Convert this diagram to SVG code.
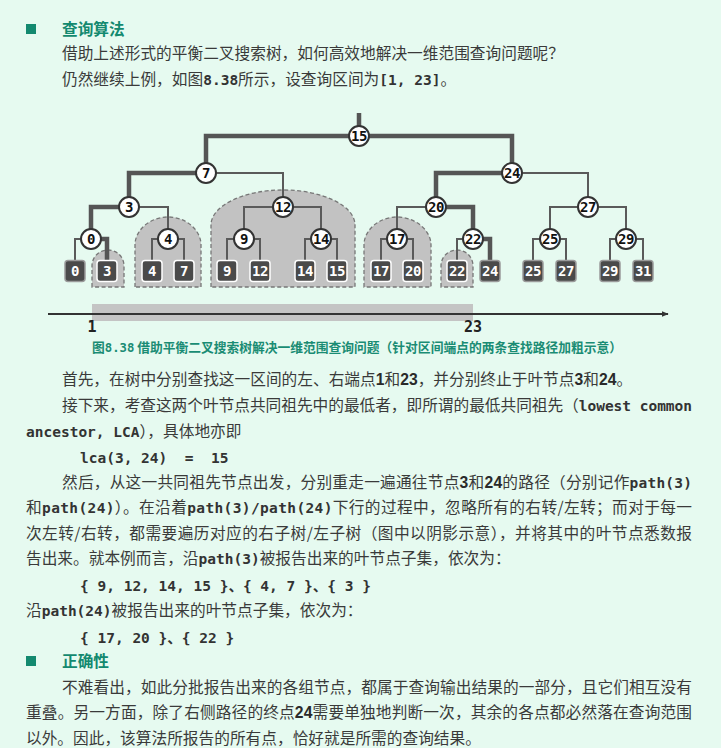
<svg xmlns="http://www.w3.org/2000/svg" width="721" height="748" viewBox="0 0 721 748">
<defs>
<style>
.t{font-family:"Noto Sans CJK SC","Liberation Sans",sans-serif;font-size:15.7px;fill:#3a3a3a}
.h{font-family:"Noto Sans CJK SC",sans-serif;font-size:15.7px;font-weight:bold;fill:#13896f}
.m{font-family:"DejaVu Sans Mono","Noto Sans CJK SC",monospace;font-size:14.5px;font-weight:bold;fill:#333}
.d{font-family:"Liberation Sans","Noto Sans CJK SC",sans-serif;font-weight:bold;fill:#2a2a2a}
.cap{font-family:"Noto Sans CJK SC",sans-serif;font-size:13px;font-weight:bold;fill:#1a8c74}
.cm{font-family:"DejaVu Sans Mono",monospace;font-size:12.5px}
.ek{fill:none;stroke:#555;stroke-width:4.5}
.en{fill:none;stroke:#5a5a5a;stroke-width:2}
.nd circle{fill:#fff;stroke:#333;stroke-width:2}
.nd text{font-family:"DejaVu Sans Mono",monospace;font-size:14px;font-weight:bold;fill:#111;text-anchor:middle;letter-spacing:-0.5px}
.lf rect{fill:#4a4a4a;stroke:#fff;stroke-width:1.5}
.lf.o rect{stroke:#9a9a9a}
.lf text{font-family:"DejaVu Sans Mono",monospace;font-size:14px;font-weight:bold;fill:#fff;text-anchor:middle;letter-spacing:-0.5px}
.sh{fill:#c2c2c2;stroke:#777;stroke-width:1.3;stroke-dasharray:4 2.5}
.ax{font-family:"DejaVu Sans Mono",monospace;font-size:15px;font-weight:bold;fill:#222;text-anchor:middle}
</style>
<marker id="arr" viewBox="0 0 10 8" refX="9" refY="4" markerWidth="7" markerHeight="6" orient="auto" markerUnits="userSpaceOnUse">
<path d="M0,0 L10,4 L0,8 Z" fill="#333"/>
</marker>
</defs>
<rect width="721" height="748" fill="#e6faf0"/>

<!-- header text -->
<rect x="26" y="24" width="10" height="10" fill="#13896f"/>
<text class="h" x="62" y="35">查询算法</text>
<text class="t" x="62" y="59">借助上述形式的平衡二叉搜索树，如何高效地解决一维范围查询问题呢？</text>
<text class="t" x="62" y="85">仍然继续上例，如图<tspan class="m">8.38</tspan>所示，设查询区间为<tspan class="m">[1, 23]</tspan>。</text>

<!-- shaded subtrees -->
<g id="shades">
<path class="sh" d="M92,287 V266 C92,257 99,250 108,250 C117,250 124,257 124,266 V287 Z"/>
<path class="sh" d="M135,287 V245 C135,230 150,217 168,217 C186,217 201,230 201,245 V287 Z"/>
<path class="sh" d="M211,287 V225 C211,206 243,190 283,190 C323,190 355,206 355,225 V287 Z"/>
<path class="sh" d="M364,287 V245 C364,230 379,217 397,217 C415,217 431,230 431,245 V287 Z"/>
<path class="sh" d="M441,287 V266 C441,257 448,250 457,250 C466,250 473,257 473,266 V287 Z"/>
</g>

<!-- connectors -->
<g id="connectors">
<path class="en" d="M206,173 H283 V207"/>
<path class="en" d="M129,207 H168 V239"/>
<path class="en" d="M91,239 H75 V261"/>
<path class="en" d="M152,261 V239 H184 V261"/>
<path class="en" d="M244,239 V207 H321 V239"/>
<path class="en" d="M227,261 V239 H260 V261"/>
<path class="en" d="M305,261 V239 H337 V261"/>
<path class="en" d="M512,173 H588 V207"/>
<path class="en" d="M436,207 H397 V239"/>
<path class="en" d="M381,261 V239 H413 V261"/>
<path class="en" d="M473,239 H457 V261"/>
<path class="en" d="M550,239 V207 H626 V239"/>
<path class="en" d="M533,261 V239 H566 V261"/>
<path class="en" d="M610,261 V239 H643 V261"/>
<path class="ek" d="M359,113 V136"/>
<path class="ek" d="M206,173 V136 H512 V173"/>
<path class="ek" d="M206,173 H129 V207"/>
<path class="ek" d="M129,207 H91 V239"/>
<path class="ek" d="M91,239 H107 V261"/>
<path class="ek" d="M512,173 H436 V207"/>
<path class="ek" d="M436,207 H473 V239"/>
<path class="ek" d="M473,239 H490 V261"/>
</g>

<!-- internal nodes -->
<g id="n15" class="nd"><circle cx="359" cy="136" r="10"/><text x="359" y="141">15</text></g>
<g id="n7" class="nd"><circle cx="206" cy="173" r="10"/><text x="206" y="178">7</text></g>
<g id="n24" class="nd"><circle cx="512" cy="173" r="10"/><text x="512" y="178">24</text></g>
<g id="n3" class="nd"><circle cx="129" cy="207" r="10"/><text x="129" y="212">3</text></g>
<g id="n12" class="nd"><circle cx="283" cy="207" r="10"/><text x="283" y="212">12</text></g>
<g id="n20" class="nd"><circle cx="436" cy="207" r="10"/><text x="436" y="212">20</text></g>
<g id="n27" class="nd"><circle cx="588" cy="207" r="10"/><text x="588" y="212">27</text></g>
<g id="n0" class="nd"><circle cx="91" cy="239" r="10"/><text x="91" y="244">0</text></g>
<g id="n4" class="nd"><circle cx="168" cy="239" r="10"/><text x="168" y="244">4</text></g>
<g id="n9" class="nd"><circle cx="244" cy="239" r="10"/><text x="244" y="244">9</text></g>
<g id="n14" class="nd"><circle cx="321" cy="239" r="10"/><text x="321" y="244">14</text></g>
<g id="n17" class="nd"><circle cx="397" cy="239" r="10"/><text x="397" y="244">17</text></g>
<g id="n22" class="nd"><circle cx="473" cy="239" r="10"/><text x="473" y="244">22</text></g>
<g id="n25" class="nd"><circle cx="550" cy="239" r="10"/><text x="550" y="244">25</text></g>
<g id="n29" class="nd"><circle cx="626" cy="239" r="10"/><text x="626" y="244">29</text></g>

<!-- leaves -->
<g id="leaf0" class="lf o"><rect x="65" y="260.5" width="20" height="21" rx="3"/><text x="75" y="276">0</text></g>
<g id="leaf3" class="lf"><rect x="97" y="260.5" width="20" height="21" rx="3"/><text x="107" y="276">3</text></g>
<g id="leaf4" class="lf"><rect x="142" y="260.5" width="20" height="21" rx="3"/><text x="152" y="276">4</text></g>
<g id="leaf7" class="lf"><rect x="174" y="260.5" width="20" height="21" rx="3"/><text x="184" y="276">7</text></g>
<g id="leaf9" class="lf"><rect x="217" y="260.5" width="20" height="21" rx="3"/><text x="227" y="276">9</text></g>
<g id="leaf12" class="lf"><rect x="250" y="260.5" width="20" height="21" rx="3"/><text x="260" y="276">12</text></g>
<g id="leaf14" class="lf"><rect x="295" y="260.5" width="20" height="21" rx="3"/><text x="305" y="276">14</text></g>
<g id="leaf15" class="lf"><rect x="327" y="260.5" width="20" height="21" rx="3"/><text x="337" y="276">15</text></g>
<g id="leaf17" class="lf"><rect x="371" y="260.5" width="20" height="21" rx="3"/><text x="381" y="276">17</text></g>
<g id="leaf20" class="lf"><rect x="403" y="260.5" width="20" height="21" rx="3"/><text x="413" y="276">20</text></g>
<g id="leaf22" class="lf"><rect x="447" y="260.5" width="20" height="21" rx="3"/><text x="457" y="276">22</text></g>
<g id="leaf24" class="lf o"><rect x="480" y="260.5" width="20" height="21" rx="3"/><text x="490" y="276">24</text></g>
<g id="leaf25" class="lf o"><rect x="523" y="260.5" width="20" height="21" rx="3"/><text x="533" y="276">25</text></g>
<g id="leaf27" class="lf o"><rect x="556" y="260.5" width="20" height="21" rx="3"/><text x="566" y="276">27</text></g>
<g id="leaf29" class="lf o"><rect x="600" y="260.5" width="20" height="21" rx="3"/><text x="610" y="276">29</text></g>
<g id="leaf31" class="lf o"><rect x="633" y="260.5" width="20" height="21" rx="3"/><text x="643" y="276">31</text></g>

<!-- axis -->
<g id="axis">
<rect x="92" y="304" width="381" height="17" fill="#c4c4c4"/>
<line x1="48" y1="314" x2="668" y2="314" stroke="#333" stroke-width="1.8" marker-end="url(#arr)"/>
<text class="ax" x="92" y="332">1</text>
<text class="ax" x="473" y="332">23</text>
</g>

<text class="cap" x="92" y="352" textLength="530" lengthAdjust="spacingAndGlyphs">图<tspan class="cm">8.38</tspan> 借助平衡二叉搜索树解决一维范围查询问题（针对区间端点的两条查找路径加粗示意）</text>

<!-- body text -->
<text class="t" x="62" y="385">首先，在树中分别查找这一区间的左、右端点<tspan class="d">1</tspan>和<tspan class="d">23</tspan>，并分别终止于叶节点<tspan class="d">3</tspan>和<tspan class="d">24</tspan>。</text>
<text class="t" x="62" y="411" textLength="630" lengthAdjust="spacing">接下来，考查这两个叶节点共同祖先中的最低者，即所谓的最低共同祖先（<tspan class="m">lowest common</tspan></text>
<text class="t" x="26" y="437"><tspan class="m">ancestor, LCA</tspan>），具体地亦即</text>
<text class="m" x="80" y="463" xml:space="preserve" style="white-space:pre">lca(3, 24)  =  15</text>
<text class="t" x="62" y="488" textLength="630" lengthAdjust="spacing">然后，从这一共同祖先节点出发，分别重走一遍通往节点<tspan class="d">3</tspan>和<tspan class="d">24</tspan>的路径（分别记作<tspan class="m">path(3)</tspan></text>
<text class="t" x="26" y="513" textLength="666" lengthAdjust="spacing">和<tspan class="m">path(24)</tspan>）。在沿着<tspan class="m">path(3)/path(24)</tspan>下行的过程中，忽略所有的右转/左转；而对于每一</text>
<text class="t" x="26" y="539" textLength="666" lengthAdjust="spacing">次左转/右转，都需要遍历对应的右子树/左子树（图中以阴影示意），并将其中的叶节点悉数报</text>
<text class="t" x="26" y="564">告出来。就本例而言，沿<tspan class="m">path(3)</tspan>被报告出来的叶节点子集，依次为：</text>
<text class="m" x="80" y="591">{ 9, 12, 14, 15 }、{ 4, 7 }、{ 3 }</text>
<text class="t" x="26" y="616">沿<tspan class="m">path(24)</tspan>被报告出来的叶节点子集，依次为：</text>
<text class="m" x="80" y="643">{ 17, 20 }、{ 22 }</text>

<rect x="26" y="656" width="10" height="10" fill="#13896f"/>
<text class="h" x="62" y="667">正确性</text>
<text class="t" x="62" y="693" textLength="630" lengthAdjust="spacing">不难看出，如此分批报告出来的各组节点，都属于查询输出结果的一部分，且它们相互没有</text>
<text class="t" x="26" y="718" textLength="666" lengthAdjust="spacing">重叠。另一方面，除了右侧路径的终点<tspan class="d">24</tspan>需要单独地判断一次，其余的各点都必然落在查询范围</text>
<text class="t" x="26" y="744">以外。因此，该算法所报告的所有点，恰好就是所需的查询结果。</text>
</svg>
